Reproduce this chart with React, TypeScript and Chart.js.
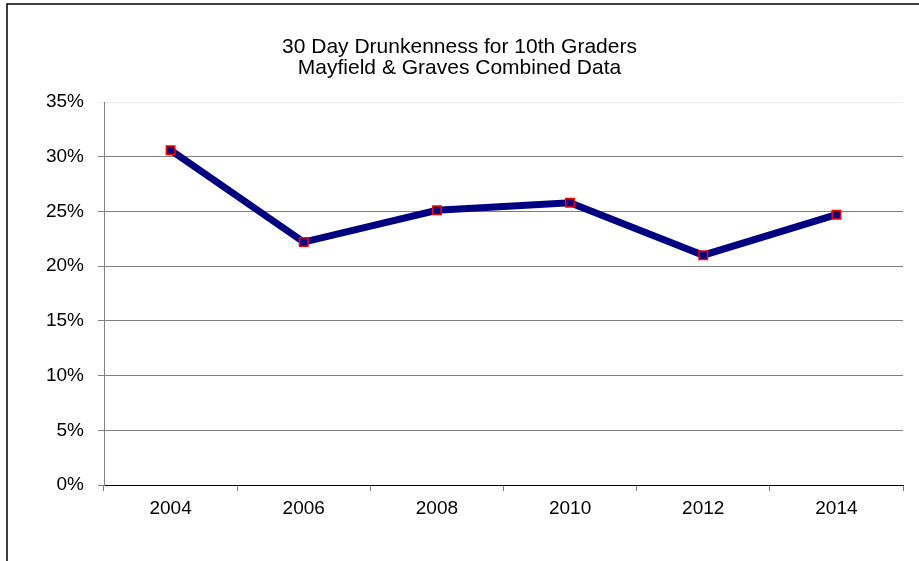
import React, { useEffect, useRef } from "react";
import { Chart, registerables } from "chart.js";

Chart.register(...registerables);

const years = ["2004", "2006", "2008", "2010", "2012", "2014"];
const drunkenness = [0.306, 0.222, 0.251, 0.258, 0.21, 0.247];
const titleLines = ["30 Day Drunkenness for 10th Graders", "Mayfield & Graves Combined Data"];
const yMin = 0;
const yMax = 0.35;
const yStep = 0.05;

const FONT = "'Liberation Sans', Arial, sans-serif";

const decorPlugin = {
  id: "decor",
  beforeDraw(chart: any) {
    const ctx = chart.ctx;
    ctx.save();
    ctx.fillStyle = "#ffffff";
    ctx.fillRect(0, 0, chart.width, chart.height);
    ctx.restore();
  },
  afterDraw(chart: any) {
    const ctx = chart.ctx;
    ctx.save();
    ctx.strokeStyle = "#000000";
    ctx.lineWidth = 1.5;
    ctx.beginPath();
    ctx.moveTo(7, chart.height);
    ctx.lineTo(7, 4);
    ctx.lineTo(chart.width, 4);
    ctx.stroke();
    ctx.fillStyle = "#000000";
    ctx.font = `21px ${FONT}`;
    ctx.textAlign = "center";
    ctx.textBaseline = "alphabetic";
    ctx.fillText(titleLines[0], chart.width / 2, 53);
    ctx.fillText(titleLines[1], chart.width / 2, 74);
    ctx.restore();
  },
};

export default function App() {
  const ref = useRef<HTMLCanvasElement | null>(null);
  useEffect(() => {
    document.body.style.margin = "0";
    const canvas = ref.current!;
    const chart = new Chart(canvas, {
      type: "line",
      data: {
        labels: years,
        datasets: [
          {
            data: drunkenness,
            borderColor: "#000080",
            borderWidth: 7,
            backgroundColor: "#000080",
            pointStyle: "rect",
            pointRadius: 6,
            pointBorderWidth: 1.5,
            pointBorderColor: "#ff0000",
            pointBackgroundColor: "#000080",
            tension: 0,
            fill: false,
          },
        ],
      },
      options: {
        responsive: false,
        animation: false,
        devicePixelRatio: 1,
        layout: { padding: { left: 0, right: 16, top: 102, bottom: 0 } },
        plugins: {
          legend: { display: false },
          title: { display: false },
          tooltip: { enabled: false },
        },
        scales: {
          x: {
            type: "category",
            offset: true,
            grid: {
              offset: true,
              drawOnChartArea: false,
              drawTicks: true,
              tickLength: 6,
              color: "#808080",
            },
            border: { color: "#000000", width: 1 },
            ticks: {
              color: "#000000",
              font: { family: FONT, size: 19 },
              padding: 6,
              maxRotation: 0,
            },
            afterFit(scale: any) {
              scale.height = 76;
            },
          },
          y: {
            min: yMin,
            max: yMax,
            grid: {
              color: (c: any) =>
                c.tick && Math.abs(c.tick.value - yMax) < 1e-9 ? "#ececec" : "#808080",
              tickLength: 6,
              lineWidth: 1,
            },
            border: { color: "#808080", width: 1 },
            ticks: {
              stepSize: yStep,
              color: "#000000",
              font: { family: FONT, size: 19 },
              padding: 14,
              callback: (v: any) => `${Math.round(Number(v) * 100)}%`,
            },
            afterFit(scale: any) {
              scale.width = 104;
            },
          },
        },
      },
      plugins: [decorPlugin],
    });
    return () => chart.destroy();
  }, []);
  return <canvas ref={ref} width={919} height={561} style={{ display: "block" }} />;
}
